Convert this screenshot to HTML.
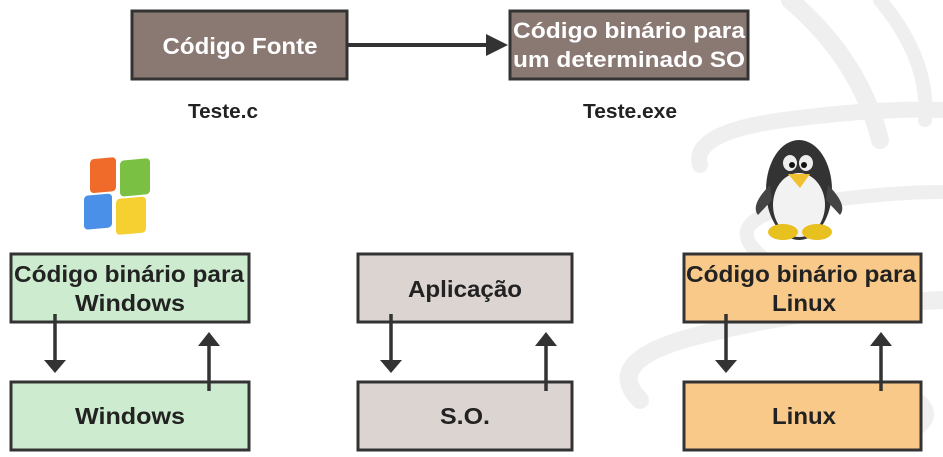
<!DOCTYPE html>
<html><head><meta charset="utf-8"><style>
body{margin:0;background:#fff;}
svg{display:block;font-family:"Liberation Sans",sans-serif;font-weight:bold;}
</style></head><body>
<svg width="943" height="457" viewBox="0 0 943 457" xmlns="http://www.w3.org/2000/svg">
<!-- background swirls -->
<g fill="none" stroke="#efefef" stroke-linecap="round">
<path d="M790 0 Q860 60 880 140" stroke-width="18"/>
<path d="M880 0 Q930 60 925 120" stroke-width="14"/>
<path d="M700 165 Q690 130 800 118 Q880 108 943 110" stroke-width="16"/>
<path d="M760 255 Q720 220 800 205 Q880 192 943 192" stroke-width="14"/>
<path d="M640 400 Q600 360 700 335 Q820 305 943 300" stroke-width="18"/>
<path d="M920 400 Q943 420 900 440" stroke-width="12"/>
</g>
<!-- top boxes -->
<rect x="132" y="11" width="215" height="68" fill="#8a7873" stroke="#333" stroke-width="3"/>
<text x="240" y="54" fill="#fff" font-size="23" text-anchor="middle" textLength="155" lengthAdjust="spacingAndGlyphs">Código Fonte</text>
<rect x="510" y="11" width="238" height="68" fill="#8a7873" stroke="#333" stroke-width="3"/>
<text x="629" y="38" fill="#fff" font-size="22" text-anchor="middle" textLength="232" lengthAdjust="spacingAndGlyphs">Código binário para</text>
<text x="629" y="67" fill="#fff" font-size="22" text-anchor="middle" textLength="232" lengthAdjust="spacingAndGlyphs">um determinado SO</text>
<line x1="348" y1="45" x2="488" y2="45" stroke="#333" stroke-width="4"/>
<polygon points="486,34 508,45 486,56" fill="#333"/>
<text x="223" y="118" fill="#222" font-size="20" text-anchor="middle" textLength="70" lengthAdjust="spacingAndGlyphs">Teste.c</text>
<text x="630" y="118" fill="#222" font-size="20" text-anchor="middle" textLength="94" lengthAdjust="spacingAndGlyphs">Teste.exe</text>
<!-- windows logo -->
<g transform="translate(82,158) skewY(-5)">
<rect x="8" y="2" width="26" height="34" rx="4" fill="#f06a2a"/>
<rect x="38" y="6" width="30" height="36" rx="4" fill="#7ac143"/>
<rect x="2" y="38" width="28" height="34" rx="4" fill="#4a8fe8"/>
<rect x="34" y="44" width="30" height="36" rx="4" fill="#f6d030"/>
</g>
<!-- penguin -->
<g>
<ellipse cx="799" cy="190" rx="33" ry="50" fill="#333"/>
<path d="M770 185 Q750 205 758 215 L772 200Z" fill="#444"/>
<path d="M828 185 Q848 205 840 215 L826 200Z" fill="#444"/>
<ellipse cx="799" cy="205" rx="26" ry="32" fill="#f2f2f2"/>
<ellipse cx="790" cy="163" rx="7" ry="8" fill="#eee"/>
<ellipse cx="806" cy="163" rx="7" ry="8" fill="#eee"/>
<circle cx="792" cy="165" r="3" fill="#111"/><circle cx="804" cy="165" r="3" fill="#111"/>
<polygon points="788,174 810,174 800,188" fill="#f0c030"/>
<ellipse cx="783" cy="232" rx="15" ry="8" fill="#e8c020"/>
<ellipse cx="817" cy="232" rx="15" ry="8" fill="#e8c020"/>
</g>
<!-- bottom boxes -->
<g stroke="#333" stroke-width="3">
<rect x="11" y="254" width="238" height="68" fill="#cdeccf"/>
<rect x="11" y="382" width="238" height="68" fill="#cdeccf"/>
<rect x="358" y="254" width="214" height="68" fill="#dcd4d1"/>
<rect x="358" y="382" width="214" height="68" fill="#dcd4d1"/>
<rect x="684" y="254" width="237" height="68" fill="#f9c98a"/>
<rect x="684" y="382" width="237" height="68" fill="#f9c98a"/>
</g>
<g fill="#222" font-size="23" text-anchor="middle" lengthAdjust="spacingAndGlyphs">
<text x="129" y="282" textLength="230" lengthAdjust="spacingAndGlyphs">Código binário para</text>
<text x="130" y="311" textLength="110" lengthAdjust="spacingAndGlyphs">Windows</text>
<text x="130" y="424" textLength="110" lengthAdjust="spacingAndGlyphs">Windows</text>
<text x="465" y="297" textLength="114" lengthAdjust="spacingAndGlyphs">Aplicação</text>
<text x="465" y="424" textLength="50" lengthAdjust="spacingAndGlyphs">S.O.</text>
<text x="801" y="282" textLength="230" lengthAdjust="spacingAndGlyphs">Código binário para</text>
<text x="804" y="311" textLength="64" lengthAdjust="spacingAndGlyphs">Linux</text>
<text x="804" y="424" textLength="64" lengthAdjust="spacingAndGlyphs">Linux</text>
</g>
<g stroke="#333" stroke-width="3.5">
<line x1="55" y1="314" x2="55" y2="362"/>
<line x1="209" y1="391" x2="209" y2="344"/>
<line x1="391" y1="314" x2="391" y2="362"/>
<line x1="546" y1="391" x2="546" y2="344"/>
<line x1="726" y1="314" x2="726" y2="362"/>
<line x1="881" y1="391" x2="881" y2="344"/>
</g>
<g fill="#333">
<polygon points="44,360 66,360 55,373"/>
<polygon points="198,346 220,346 209,332"/>
<polygon points="380,360 402,360 391,373"/>
<polygon points="535,346 557,346 546,332"/>
<polygon points="715,360 737,360 726,373"/>
<polygon points="870,346 892,346 881,332"/>
</g>
</svg>
</body></html>
